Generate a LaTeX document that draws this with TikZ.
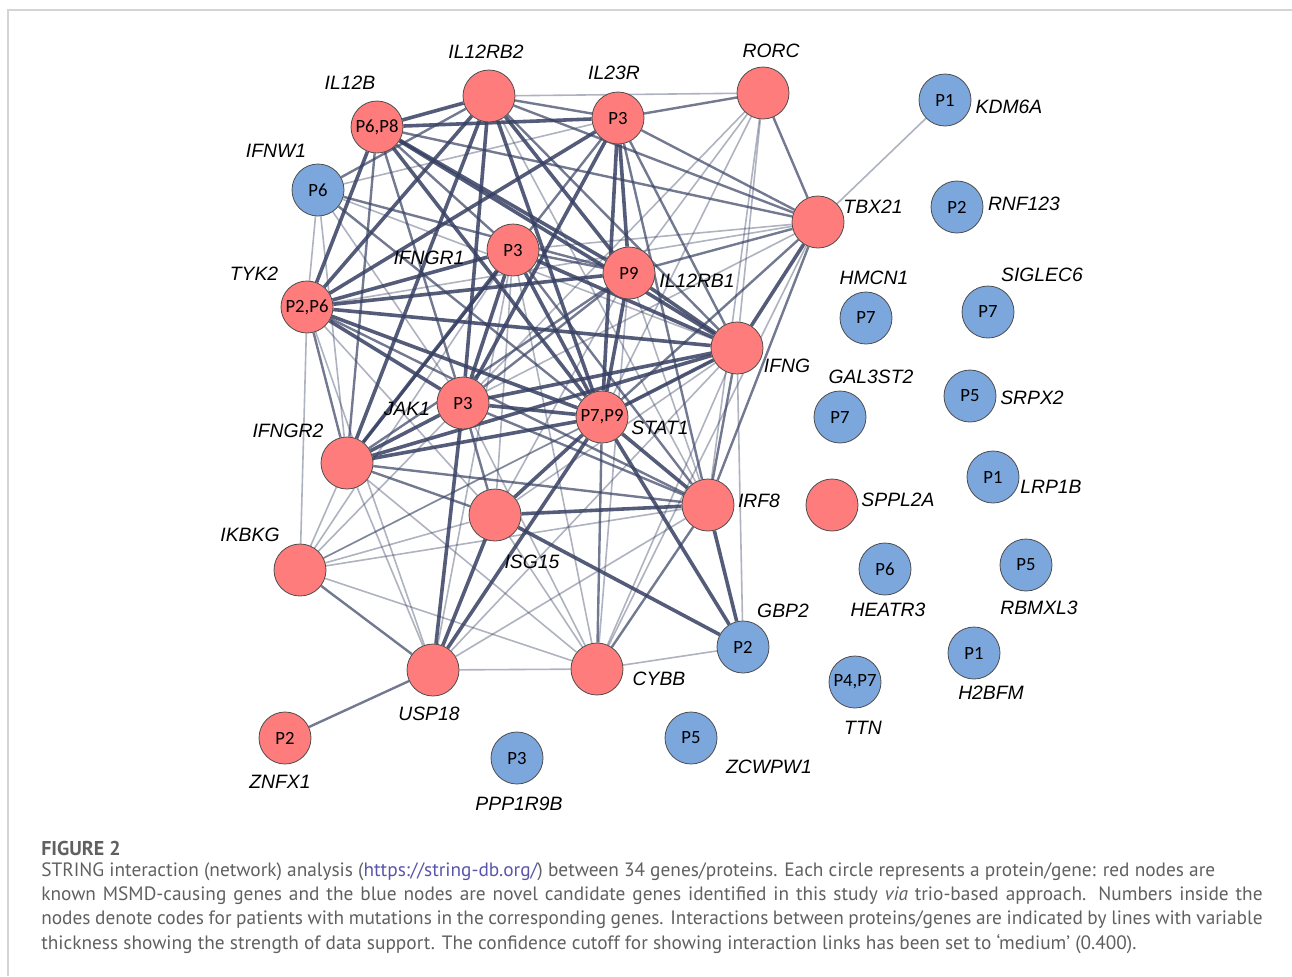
\documentclass[tikz,border=0pt]{standalone}
\usepackage{fontspec}
\usepackage{tikz}
\usetikzlibrary{backgrounds}
\newfontfamily\genefont{Liberation Sans}
\newfontfamily\codefont{Carlito}
\newfontfamily\capfont{PT Sans}
\definecolor{knownred}{RGB}{255,124,124}
\definecolor{novelblue}{RGB}{124,167,221}
\definecolor{linkcol}{RGB}{54,64,98}
\definecolor{capgray}{RGB}{96,96,96}
\definecolor{urlblue}{RGB}{88,86,170}
\definecolor{framegray}{RGB}{212,212,212}

\begin{document}
\begin{tikzpicture}[x=0.75pt, y=-0.75pt,
    prot/.style={circle, draw=black!70, line width=0.6pt, minimum size=39pt, inner sep=0pt,
                 font=\codefont\fontsize{14}{15}\selectfont},
    known/.style={prot, fill=knownred},
    novel/.style={prot, fill=novelblue},
    gene/.style={inner sep=0pt, font=\genefont\itshape\fontsize{14.5}{16}\selectfont},
    strong/.style={linkcol, line width=2.7pt, opacity=0.85},
    mid/.style={linkcol, line width=1.8pt, opacity=0.7},
    weak/.style={linkcol, line width=1.2pt, opacity=0.4},
    caption/.style={anchor=west, inner sep=0pt, text=capgray, font=\capfont\fontsize{14.5}{16}\selectfont}]
        \useasboundingbox (0,0) rectangle (1292,976);
        \draw[framegray, line width=1.2pt] (8,976) -- (8,10) -- (1292,10);

        % Known MSMD genes
        \node[known] (IL12RB2) at (489,96) {};
        \node[known] (IL23R) at (618,118) {P3};
        \node[known] (RORC) at (763,93) {};
        \node[known] (IL12B) at (377,127) {P6,P8};
        \node[known] (TBX21) at (818,222) {};
        \node[known] (IFNGR1) at (513,250) {P3};
        \node[known] (IL12RB1) at (629,273) {P9};
        \node[known] (TYK2) at (307,307) {P2,P6};
        \node[known] (IFNG) at (737,348) {};
        \node[known] (JAK1) at (463,403) {P3};
        \node[known] (STAT1) at (602,417) {P7,P9};
        \node[known] (IFNGR2) at (347,463) {};
        \node[known] (IRF8) at (708,505) {};
        \node[known] (SPPL2A) at (832,505) {};
        \node[known] (ISG15) at (495,515) {};
        \node[known] (IKBKG) at (300,570) {};
        \node[known] (USP18) at (433,670) {};
        \node[known] (CYBB) at (597,669) {};
        \node[known] (ZNFX1) at (285,738) {P2};

        % Novel candidate genes
        \node[novel] (IFNW1) at (318,190) {P6};
        \node[novel] (KDM6A) at (945,100) {P1};
        \node[novel] (RNF123) at (957,207) {P2};
        \node[novel] (HMCN1) at (866,318) {P7};
        \node[novel] (SIGLEC6) at (988,312) {P7};
        \node[novel] (GAL3ST2) at (840,417) {P7};
        \node[novel] (SRPX2) at (970,396) {P5};
        \node[novel] (LRP1B) at (993,477) {P1};
        \node[novel] (HEATR3) at (885,569) {P6};
        \node[novel] (RBMXL3) at (1026,565) {P5};
        \node[novel] (GBP2) at (743,647) {P2};
        \node[novel] (TTN) at (855,682) {P4,P7};
        \node[novel] (H2BFM) at (974,653) {P1};
        \node[novel] (ZCWPW1) at (691,738) {P5};
        \node[novel] (PPP1R9B) at (517,758) {P3};

        % Gene names
        \node[gene] (tIL12RB2) at (486,52) {IL12RB2};
        \node[gene] (tIL23R) at (614,73) {IL23R};
        \node[gene] (tRORC) at (771,51) {RORC};
        \node[gene] (tIL12B) at (350,83) {IL12B};
        \node[gene] (tIFNW1) at (276,151) {IFNW1};
        \node[gene] (tKDM6A) at (1009,107) {KDM6A};
        \node[gene] (tTBX21) at (873,207) {TBX21};
        \node[gene] (tRNF123) at (1024,204) {RNF123};
        \node[gene] (tIFNGR1) at (429,258) {IFNGR1};
        \node[gene] (tIL12RB1) at (697,281) {IL12RB1};
        \node[gene] (tTYK2) at (254,274) {TYK2};
        \node[gene] (tHMCN1) at (874,278) {HMCN1};
        \node[gene] (tSIGLEC6) at (1042,275) {SIGLEC6};
        \node[gene] (tIFNG) at (787,366) {IFNG};
        \node[gene] (tGAL3ST2) at (871,377) {GAL3ST2};
        \node[gene] (tSRPX2) at (1032,398) {SRPX2};
        \node[gene] (tJAK1) at (407,409) {JAK1};
        \node[gene] (tSTAT1) at (660,428) {STAT1};
        \node[gene] (tIFNGR2) at (288,431) {IFNGR2};
        \node[gene] (tLRP1B) at (1051,487) {LRP1B};
        \node[gene] (tIRF8) at (759,501) {IRF8};
        \node[gene] (tSPPL2A) at (898,500) {SPPL2A};
        \node[gene] (tIKBKG) at (250,535) {IKBKG};
        \node[gene] (tISG15) at (532,562) {ISG15};
        \node[gene] (tHEATR3) at (888,610) {HEATR3};
        \node[gene] (tRBMXL3) at (1039,608) {RBMXL3};
        \node[gene] (tGBP2) at (783,611) {GBP2};
        \node[gene] (tCYBB) at (659,679) {CYBB};
        \node[gene] (tH2BFM) at (991,693) {H2BFM};
        \node[gene] (tUSP18) at (429,714) {USP18};
        \node[gene] (tTTN) at (863,728) {TTN};
        \node[gene] (tZCWPW1) at (769,767) {ZCWPW1};
        \node[gene] (tZNFX1) at (280,782) {ZNFX1};
        \node[gene] (tPPP1R9B) at (519,804) {PPP1R9B};

        % Interactions
        \begin{scope}[on background layer]
            \foreach \a/\b in {IL12B/IL12RB2, IL12B/IL23R, IL12B/TYK2, IL12B/IL12RB1, IL12B/STAT1,
                    IL12B/IFNG, IL12RB2/IL12RB1, IL12RB2/STAT1, IL12RB2/JAK1, IL12RB2/TYK2,
                    IL12RB2/IFNGR2, IL23R/IL12RB1, IL23R/STAT1, IL23R/JAK1, IL23R/TYK2,
                    TYK2/IL12RB1, TYK2/IFNGR1, TYK2/JAK1, TYK2/STAT1, TYK2/IFNG,
                    IFNGR1/IFNG, IFNGR1/IFNGR2, IFNGR1/JAK1, IFNGR1/STAT1, IFNGR2/JAK1,
                    IFNGR2/STAT1, IFNGR2/IFNG, JAK1/STAT1, JAK1/IFNG, JAK1/USP18,
                    STAT1/IFNG, STAT1/IL12RB1, STAT1/IRF8, STAT1/ISG15, STAT1/USP18,
                    STAT1/GBP2, IFNG/IL12RB1, IFNG/TBX21, IRF8/ISG15, IRF8/GBP2,
                    ISG15/USP18, ISG15/GBP2}
                \draw[strong] (\a) -- (\b);
            \foreach \a/\b in {IL12B/IFNGR2, IL12B/JAK1, IL12B/TBX21, IL12B/IFNGR1, IL12RB2/IL23R,
                    IL12RB2/IFNG, IL12RB2/TBX21, IL23R/RORC, IL23R/TBX21, IL23R/IFNG,
                    IL23R/IFNGR2, IL23R/IRF8, RORC/TBX21, TBX21/IL12RB1, TBX21/STAT1,
                    TBX21/IRF8, IFNW1/IL12RB1, IFNW1/STAT1, IFNW1/IL12RB2, IFNGR1/IL12RB1,
                    IFNGR1/IRF8, IFNG/IRF8, TYK2/IFNGR2, TYK2/IRF8, IFNGR2/IRF8,
                    IFNGR2/ISG15, IFNGR2/IL12RB1, JAK1/ISG15, JAK1/IRF8, USP18/ZNFX1,
                    USP18/IKBKG, CYBB/IRF8, CYBB/STAT1, IL12RB1/JAK1}
                \draw[mid] (\a) -- (\b);
            \foreach \a/\b in {RORC/IL12RB2, RORC/IFNG, RORC/STAT1, RORC/IL12RB1, RORC/IRF8,
                    RORC/JAK1, KDM6A/TBX21, TBX21/IFNGR1, TBX21/JAK1, TBX21/TYK2,
                    TBX21/CYBB, IFNW1/IL23R, IFNW1/TYK2, IFNW1/IFNG, IFNW1/JAK1,
                    IFNW1/IFNGR2, IL12RB2/IRF8, IL12RB1/IRF8, IL12RB1/CYBB, IL12RB1/ISG15,
                    IFNG/ISG15, IFNG/CYBB, IFNG/GBP2, IFNG/USP18, IFNG/IKBKG,
                    TYK2/ISG15, TYK2/IKBKG, TYK2/USP18, IFNGR1/ISG15, IFNGR1/CYBB,
                    IFNGR1/USP18, IFNGR1/IKBKG, IFNGR2/IKBKG, IFNGR2/USP18, IFNGR2/CYBB,
                    JAK1/CYBB, JAK1/IKBKG, STAT1/IKBKG, IRF8/IKBKG, IRF8/USP18,
                    ISG15/IKBKG, ISG15/CYBB, USP18/CYBB, CYBB/IKBKG, CYBB/GBP2}
                \draw[weak] (\a) -- (\b);
        \end{scope}

        % Caption
        \node[caption, font=\capfont\bfseries\fontsize{15}{16}\selectfont] (fig) at (41,848) {FIGURE 2};
        \node[caption] (cap1) at (41,872) {STRING interaction (network) analysis (\textcolor{urlblue}{https://string-db.org/}) between 34 genes/proteins. Each circle represents a protein/gene: red nodes are};
        \node[caption] (cap2) at (41,896) {\makebox[916pt][s]{known MSMD-causing genes and the blue nodes are novel candidate genes identified in this study \textit{via} trio-based approach. Numbers inside the}};
        \node[caption] (cap3) at (41,920) {\makebox[916pt][s]{nodes denote codes for patients with mutations in the corresponding genes. Interactions between proteins/genes are indicated by lines with variable}};
        \node[caption] (cap4) at (41,944) {thickness showing the strength of data support. The confidence cutoff for showing interaction links has been set to ‘medium’ (0.400).};
    \end{tikzpicture}
\end{document}
